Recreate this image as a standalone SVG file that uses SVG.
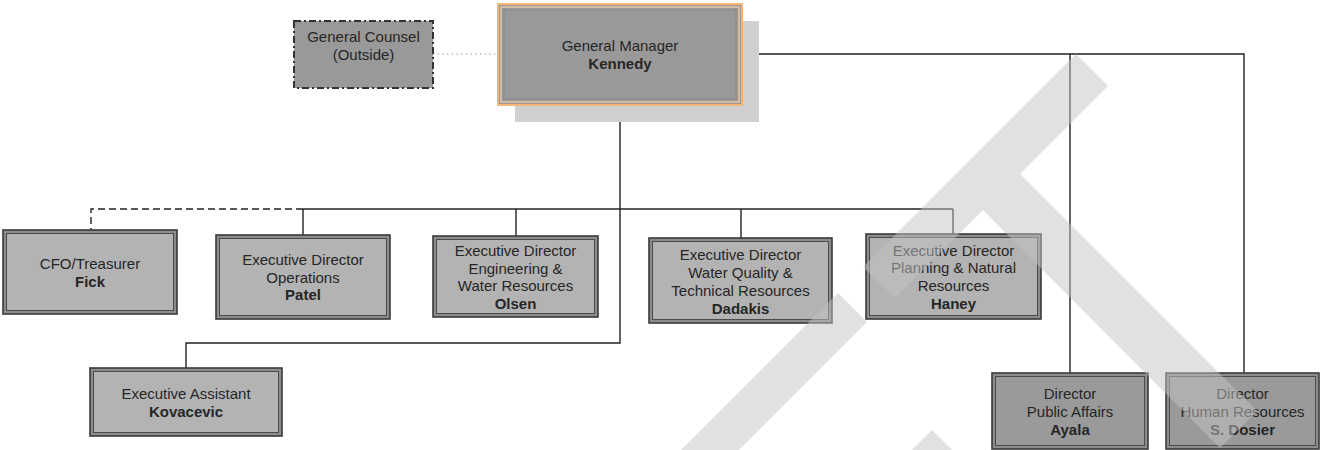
<svg xmlns="http://www.w3.org/2000/svg" width="1321" height="450" viewBox="0 0 1321 450">
  <style>
    .outer { fill: #8c8c8c; stroke: #3a3a3a; stroke-width: 1.6; }
    .inner { fill: #b3b3b3; stroke: #4a4a4a; stroke-width: 1; }
    .dark .inner { fill: #9a9a9a; }
    .t { font-family: "Liberation Sans", Arial, sans-serif; font-size: 15px; fill: #262626; text-anchor: middle; }
    .b { font-weight: bold; }
    .link { fill: none; stroke: #222; stroke-width: 1.4; }
    .dashed { stroke-dasharray: 7 4; }
    .dotted { fill: none; stroke: #888; stroke-width: 1.2; stroke-dasharray: 1.2 3.5; }
    .mark { fill: #c4c4c4; opacity: 0.5; }
  </style>

  <!-- connectors -->
  <g id="connectors">
    <path class="dotted" d="M433 54 H498"/>
    <path class="link" d="M620 105 V343 H186 V368"/>
    <path class="link" d="M303 209 H953"/>
    <path class="link" d="M303 209 V235"/>
    <path class="link" d="M516 209 V236"/>
    <path class="link" d="M741 209 V238"/>
    <path class="link" d="M953 209 V234"/>
    <path class="link dashed" d="M303 209 H91 V230"/>
    <path class="link" d="M742 54 H1244 V373"/>
    <path class="link" d="M1070 54 V373"/>
  </g>

  <!-- general counsel -->
  <g id="node-counsel">
    <rect x="294" y="21" width="139" height="67" fill="#999" stroke="#333" stroke-width="2" stroke-dasharray="7 3 2 3"/>
    <text class="t" x="363.5" y="42">General Counsel</text>
    <text class="t" x="363.5" y="60">(Outside)</text>
  </g>

  <!-- general manager -->
  <g id="node-gm">
    <rect x="515" y="21" width="244" height="101" fill="#d0d0d0"/>
    <rect x="498" y="4" width="244" height="101" fill="#999" stroke="#f2b77a" stroke-width="2"/>
    <rect x="501" y="7" width="238" height="95" fill="none" stroke="#e8c8a8" stroke-width="1.5"/>
    <rect x="504" y="10" width="232" height="89" fill="none" stroke="#8a8a8a" stroke-width="1"/>
    <text class="t" x="620" y="51">General Manager</text>
    <text class="t b" x="620" y="69">Kennedy</text>
  </g>

  <g id="node-cfo">
    <rect class="outer" x="3" y="230" width="174" height="84"/>
    <rect class="inner" x="6.5" y="233.5" width="167" height="77"/>
    <text class="t" x="90" y="269">CFO/Treasurer</text>
    <text class="t b" x="90" y="287">Fick</text>
  </g>

  <g id="node-operations">
    <rect class="outer" x="216" y="235" width="174" height="84"/>
    <rect class="inner" x="219.5" y="238.5" width="167" height="77"/>
    <text class="t" x="303" y="264.5">Executive Director</text>
    <text class="t" x="303" y="282.5">Operations</text>
    <text class="t b" x="303" y="300">Patel</text>
  </g>

  <g id="node-engineering">
    <rect class="outer" x="433" y="236" width="165" height="81"/>
    <rect class="inner" x="436.5" y="239.5" width="158" height="74"/>
    <text class="t" x="515.5" y="256">Executive Director</text>
    <text class="t" x="515.5" y="273.5">Engineering &amp;</text>
    <text class="t" x="515.5" y="291">Water Resources</text>
    <text class="t b" x="515.5" y="308.5">Olsen</text>
  </g>

  <g id="node-water-quality">
    <rect class="outer" x="649" y="238" width="183" height="85"/>
    <rect class="inner" x="652.5" y="241.5" width="176" height="78"/>
    <text class="t" x="740.5" y="260">Executive Director</text>
    <text class="t" x="740.5" y="278">Water Quality &amp;</text>
    <text class="t" x="740.5" y="296">Technical Resources</text>
    <text class="t b" x="740.5" y="313.5">Dadakis</text>
  </g>

  <g id="node-planning">
    <rect class="outer" x="866" y="234" width="175" height="85"/>
    <rect class="inner" x="869.5" y="237.5" width="168" height="78"/>
    <text class="t" x="953.5" y="255.5">Executive Director</text>
    <text class="t" x="953.5" y="273">Planning &amp; Natural</text>
    <text class="t" x="953.5" y="291">Resources</text>
    <text class="t b" x="953.5" y="308.5">Haney</text>
  </g>

  <g id="node-assistant">
    <rect class="outer" x="90" y="368" width="192" height="68"/>
    <rect class="inner" x="93.5" y="371.5" width="185" height="61"/>
    <text class="t" x="186" y="398.5">Executive Assistant</text>
    <text class="t b" x="186" y="416.5">Kovacevic</text>
  </g>

  <g id="node-public-affairs" class="dark">
    <rect class="outer" x="992" y="373" width="156" height="76"/>
    <rect class="inner" x="995.5" y="376.5" width="149" height="69"/>
    <text class="t" x="1070" y="398.5">Director</text>
    <text class="t" x="1070" y="416.5">Public Affairs</text>
    <text class="t b" x="1070" y="434.5">Ayala</text>
  </g>

  <g id="node-human-resources" class="dark">
    <rect class="outer" x="1166" y="373" width="153" height="76"/>
    <rect class="inner" x="1169.5" y="376.5" width="146" height="69"/>
    <text class="t" x="1242.5" y="398.5">Director</text>
    <text class="t" x="1242.5" y="416.5">Human Resources</text>
    <text class="t b" x="1242.5" y="434.5">S. Dosier</text>
  </g>

  <!-- diagonal draft watermark strokes, laid over the chart -->
  <g id="watermark">
    <polygon class="mark" points="863,267 1076,54 1108,86 1020,174 1257,411 1220,448 983,210 895,298"/>
    <polygon class="mark" points="838,293 867,322 667,522 638,493"/>
    <polygon class="mark" points="932,430 982,480 932,530 882,480"/>
  </g>
</svg>
